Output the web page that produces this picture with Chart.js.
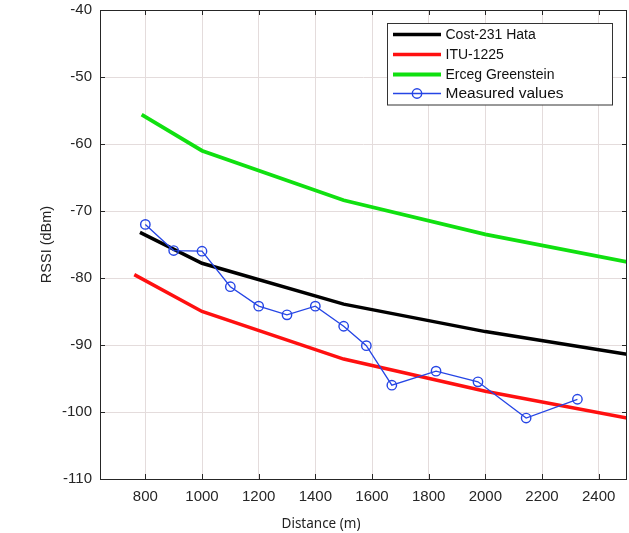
<!DOCTYPE html>
<html>
<head>
<meta charset="utf-8">
<script src="https://cdn.jsdelivr.net/npm/chart.js@4"></script>
<style>
  html, body { margin: 0; padding: 0; background: #fff; }
  #wrap { width: 629px; height: 533px; }
</style>
</head>
<body>
<div id="wrap"><canvas id="rssiChart" width="629" height="533"></canvas></div>
<script>
// values
const xTicks = [800, 1000, 1200, 1400, 1600, 1800, 2000, 2200, 2400];
const yTicks = [-110, -100, -90, -80, -70, -60, -50, -40];

const costDist = [781, 1000, 1500, 2000, 2500];
const costRssi = [-73.2, -77.8, -83.9, -88.0, -91.4];

const ituDist = [761, 1000, 1500, 2000, 2500];
const ituRssi = [-79.5, -85.0, -92.1, -96.9, -100.9];

const ercegDist = [787, 1000, 1500, 2000, 2500];
const ercegRssi = [-55.6, -61.0, -68.4, -73.5, -77.6];

const measuredDist = [800, 900, 1000, 1100, 1200, 1300, 1400, 1500, 1580, 1670, 1826, 1974, 2144, 2325];
const measuredRssi = [-72.0, -75.9, -76.0, -81.3, -84.2, -85.5, -84.2, -87.2, -90.1, -96.0, -93.9, -95.5, -100.9, -98.1];

const seriesNames = ['Cost-231 Hata', 'ITU-1225', 'Erceg Greenstein', 'Measured values'];

function toPoints(xs, ys) {
    return xs.map((x, i) => ({ x: x, y: ys[i] }));
}

const axisColor = '#262626';
const plotRight = 627;

// Chart.js keeps a few px on the right for the last label, take them back
const stretchRight = {
    id: 'stretchRight',
    afterLayout(chart) {
        const xs = chart.scales.x;
        xs.right = plotRight;
        xs.width = xs.right - xs.left;
        xs.configure();
        chart.chartArea.right = plotRight;
        chart.chartArea.width = plotRight - chart.chartArea.left;
    }
};

// box, inward ticks, axis titles and legend (MATLAB look)
const matlabFrame = {
    id: 'matlabFrame',
    afterDraw(chart) {
        const ctx = chart.ctx;
        const a = chart.chartArea;
        const xs = chart.scales.x, ys = chart.scales.y;
        ctx.save();
        ctx.strokeStyle = axisColor;
        ctx.lineWidth = 1;
        ctx.beginPath();
        xTicks.forEach(v => {
            const px = Math.round(xs.getPixelForValue(v)) + 0.5;
            ctx.moveTo(px, a.bottom); ctx.lineTo(px, a.bottom - 5);
            ctx.moveTo(px, a.top); ctx.lineTo(px, a.top + 5);
        });
        yTicks.forEach(v => {
            const py = Math.round(ys.getPixelForValue(v)) + 0.5;
            ctx.moveTo(a.left, py); ctx.lineTo(a.left + 5, py);
            ctx.moveTo(a.right, py); ctx.lineTo(a.right - 5, py);
        });
        ctx.stroke();
        ctx.strokeRect(Math.round(a.left) + 0.5, Math.round(a.top) + 0.5,
                       Math.round(a.right - a.left) - 1, Math.round(a.bottom - a.top));

        // axis titles
        ctx.fillStyle = '#222';
        ctx.textAlign = 'center';
        ctx.textBaseline = 'middle';
        ctx.font = '13.5px "Noto Sans"';
        ctx.fillText('Distance (m)', 321, 524);
        ctx.save();
        ctx.translate(47, (a.top + a.bottom) / 2);
        ctx.rotate(-Math.PI / 2);
        ctx.font = '14.5px "Liberation Sans"';
        ctx.fillText('RSSI (dBm)', 0, 0);
        ctx.restore();

        // legend box
        const bx = 387.5, by = 23.5, bw = 225, bh = 81.5;
        ctx.fillStyle = '#fff';
        ctx.fillRect(bx, by, bw, bh);
        ctx.strokeStyle = '#333';
        ctx.strokeRect(bx, by, bw, bh);
        const rowY = [34.5, 54.5, 74.5, 93.5];
        const fontSizes = [14, 14, 14, 15.5];
        chart.data.datasets.forEach((ds, i) => {
            const y = rowY[i];
            ctx.strokeStyle = ds.borderColor;
            ctx.lineWidth = ds.borderWidth;
            ctx.beginPath();
            ctx.moveTo(393, y); ctx.lineTo(441, y);
            ctx.stroke();
            if (ds.pointRadius > 0) {
                ctx.lineWidth = ds.pointBorderWidth;
                ctx.beginPath();
                ctx.arc(417, y, ds.pointRadius, 0, Math.PI * 2);
                ctx.stroke();
            }
            ctx.fillStyle = '#111';
            ctx.textAlign = 'left';
            ctx.textBaseline = 'middle';
            ctx.font = fontSizes[i] + 'px "Liberation Sans"';
            ctx.fillText(ds.label, 445.5, y + 0.5, 165);
        });
        ctx.restore();
    }
};

const ctx = document.getElementById('rssiChart').getContext('2d');
new Chart(ctx, {
    type: 'line',
    data: {
        datasets: [
            {
                label: seriesNames[0],
                data: toPoints(costDist, costRssi),
                borderColor: '#000000',
                borderWidth: 3.5,
                pointRadius: 0,
                order: 3
            },
            {
                label: seriesNames[1],
                data: toPoints(ituDist, ituRssi),
                borderColor: '#ff1010',
                borderWidth: 3.5,
                pointRadius: 0,
                order: 2
            },
            {
                label: seriesNames[2],
                data: toPoints(ercegDist, ercegRssi),
                borderColor: '#10e010',
                borderWidth: 3.8,
                pointRadius: 0,
                order: 1
            },
            {
                label: seriesNames[3],
                data: toPoints(measuredDist, measuredRssi),
                borderColor: '#2545e5',
                borderWidth: 1.3,
                pointRadius: 4.7,
                pointBorderWidth: 1.4,
                pointBackgroundColor: 'rgba(0,0,0,0)',
                pointBorderColor: '#2545e5',
                order: 0
            }
        ]
    },
    options: {
        responsive: false,
        animation: false,
        events: [],
        layout: { padding: { top: 10, right: 2, left: 0, bottom: 0 } },
        plugins: {
            legend: { display: false },
            tooltip: { enabled: false }
        },
        scales: {
            x: {
                type: 'linear',
                min: 640,
                max: 2500,
                afterBuildTicks: s => { s.ticks = xTicks.map(v => ({ value: v })); },
                afterFit: s => { s.height = 54; s.paddingLeft = 0; s.paddingRight = 0; },
                grid: { color: '#e4dcdc', lineWidth: 1, drawTicks: false },
                border: { display: false },
                ticks: {
                    padding: 9,
                    color: axisColor,
                    font: { family: 'Liberation Sans', size: 15 },
                    maxRotation: 0,
                    callback: v => String(v)
                }
            },
            y: {
                type: 'linear',
                min: -110,
                max: -40,
                afterBuildTicks: s => { s.ticks = yTicks.map(v => ({ value: v })); },
                afterFit: s => { s.width = 100; s.paddingTop = 0; s.paddingBottom = 0; },
                grid: { color: '#e4dcdc', lineWidth: 1, drawTicks: false },
                border: { display: false },
                ticks: {
                    padding: 8,
                    color: axisColor,
                    font: { family: 'Liberation Sans', size: 15 },
                    callback: v => String(v)
                }
            }
        }
    },
    plugins: [stretchRight, matlabFrame]
});
</script>
</body>
</html>
